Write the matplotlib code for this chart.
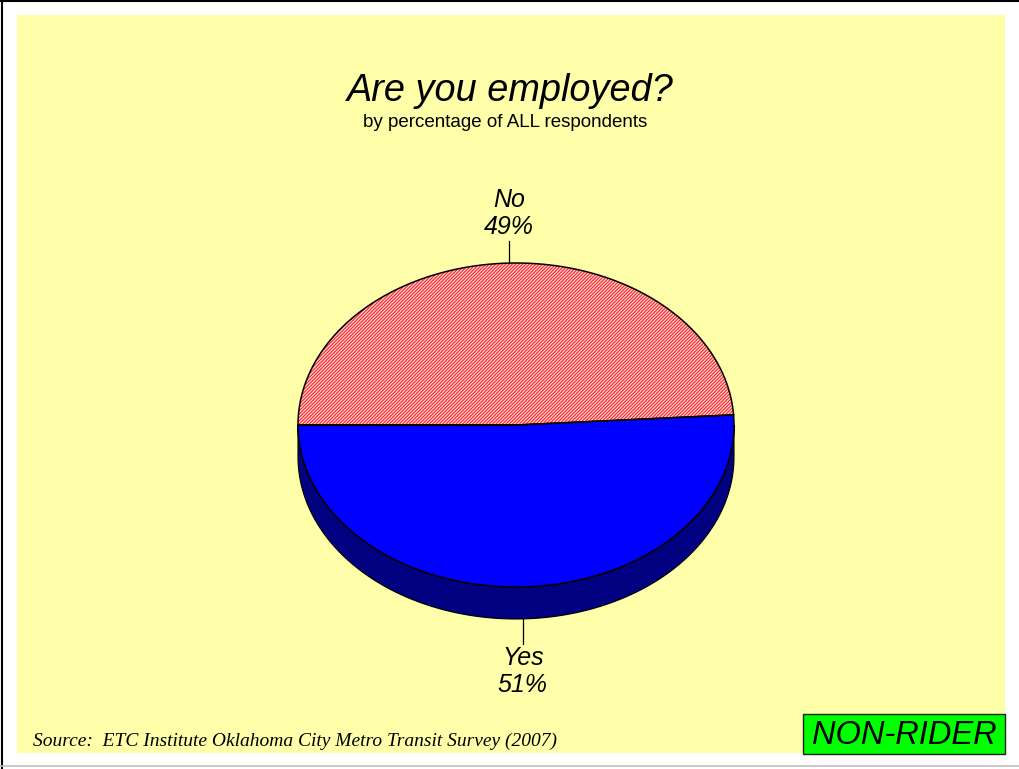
import numpy as np
import matplotlib
matplotlib.use("Agg")
import matplotlib.pyplot as plt
from matplotlib.patches import Polygon, Rectangle

# survey answers
labels = ["No", "Yes"]
shares = [49, 51]
start_angle = 3.6  # degrees, where the "No" slice begins (counterclockwise)

title = "Are you employed?"
subtitle = "by percentage of ALL respondents"
source = "Source:  ETC Institute Oklahoma City Metro Transit Survey (2007)"
badge = "NON-RIDER"

# pie geometry in pixel units
cx, cy = 516, 425
rx, ry = 218, 162
depth = 32

plt.rcParams["hatch.linewidth"] = 0.8

fig = plt.figure(figsize=(10.2, 7.69), dpi=100, facecolor="white")
ax = fig.add_axes([0, 0, 1, 1])
ax.set_xlim(0, 1020)
ax.set_ylim(769, 0)
ax.axis("off")

# slide background and frame lines
ax.add_patch(Rectangle((17, 15), 988, 738, facecolor="#FFFFAA", edgecolor="none", zorder=0))
ax.plot([0, 1020], [0.8, 0.8], color="black", lw=1.5, zorder=1)
ax.plot([2.5, 2.5], [0, 769], color="black", lw=1.5, zorder=1)
ax.plot([0, 1020], [766, 766], color="#C0C0C0", lw=1.2, zorder=1)


def rim(a0, a1, dy=0.0, n=200):
    t = np.radians(np.linspace(a0, a1, n))
    return np.column_stack([cx + rx * np.cos(t), cy - ry * np.sin(t) + dy])


# slice angles from the shares
total = sum(shares)
bounds = [start_angle]
for s in shares:
    bounds.append(bounds[-1] + 360.0 * s / total)

# visible side wall (front half of the disc)
front = rim(180, 360)
wall = np.vstack([front, rim(360, 180, dy=depth)])
ax.add_patch(Polygon(wall, closed=True, facecolor="#000080", edgecolor="black", lw=0.8, zorder=2))

styles = [
    dict(facecolor="#FFD6D6", edgecolor="#FF2020", hatch="/" * 10),
    dict(facecolor="#0000FF", edgecolor="#0000FF", hatch=None),
]

for i, (lab, s) in enumerate(zip(labels, shares)):
    a0, a1 = bounds[i], bounds[i + 1]
    pts = np.vstack([[cx, cy], rim(a0, a1)])
    st = styles[i]
    ax.add_patch(Polygon(pts, closed=True, facecolor=st["facecolor"], edgecolor=st["edgecolor"],
                         hatch=st["hatch"], lw=0, zorder=3))
    ax.add_patch(Polygon(pts, closed=True, fill=False, edgecolor="black", lw=1.1, zorder=4))

    # leader line and label at the slice middle
    mid = np.radians((a0 + a1) / 2)
    ex = cx + rx * np.cos(mid)
    ey = cy - ry * np.sin(mid)
    if np.sin(mid) >= 0:
        ax.plot([ex, ex], [ey, ey - 22], color="black", lw=0.9, zorder=5)
        ax.text(ex, ey - 24, f"{lab}\n{s}%", ha="center", va="bottom", fontsize=18,
                fontstyle="italic", family="Liberation Sans", linespacing=1.15, zorder=5)
    else:
        ey += depth
        ax.plot([ex, ex], [ey, ey + 25], color="black", lw=0.9, zorder=5)
        ax.text(ex, ey + 27, f"{lab}\n{s}%", ha="center", va="top", fontsize=18,
                fontstyle="italic", family="Liberation Sans", linespacing=1.15, zorder=5)

# titles
ax.text(510, 101, title, ha="center", va="baseline", fontsize=27.3, fontstyle="italic",
        family="Liberation Sans", zorder=5)
ax.text(505, 127, subtitle, ha="center", va="baseline", fontsize=13.5,
        family="Liberation Sans", zorder=5)

# source note
ax.text(33, 746, source, ha="left", va="baseline", fontsize=14, fontstyle="italic",
        family="Liberation Serif", zorder=5)

# badge
ax.add_patch(Rectangle((803, 714), 202, 40, facecolor="#00FF00", edgecolor="#202020", lw=1, zorder=5))
ax.text(904, 744, badge, ha="center", va="baseline", fontsize=23.5, fontstyle="italic",
        family="Liberation Sans", zorder=6)

fig.savefig("out.png", dpi=100, facecolor="white")
